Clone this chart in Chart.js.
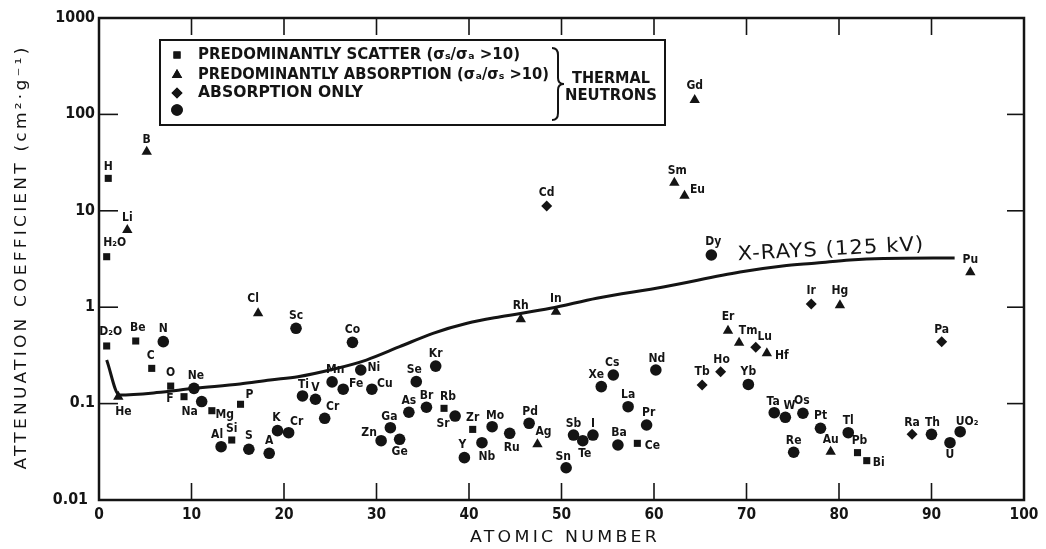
<!DOCTYPE html>
<html><head><meta charset="utf-8">
<script src="https://cdn.jsdelivr.net/npm/chart.js@4.4.1/dist/chart.umd.min.js"></script>
<style>html,body{margin:0;padding:0;background:#fff;}canvas{display:block;}</style>
</head><body>
<canvas id="c" width="1046" height="549"></canvas>
<script>
// ---------- DATA ----------
const xTicks = [0,10,20,30,40,50,60,70,80,90,100];
const xTickLabels = ['0','10','20','30','40','50','60','70','80','90','100'];
const yTicks = [0.01,0.1,1,10,100,1000];
const yTickLabels = ['0.01','0.1','1','10','100','1000'];

// predominantly scatter (squares)
const scatterNames = ['H','H₂O','D₂O','Be','C','O','F','Mg','P','Si','Rb','Zr','Ce','Pb','Bi'];
const scatterZ  = [1.0,0.83,0.83,3.97,5.7,7.75,9.19,12.2,15.3,14.35,37.3,40.4,58.2,82.0,83.0];
const scatterMu = [21.7,3.34,0.396,0.446,0.232,0.152,0.118,0.0844,0.0984,0.0419,0.0893,0.054,0.0387,0.031,0.0256];

// predominantly absorption (triangles)
const absorbNames = ['B','Li','He','Cl','Rh','In','Ag','Sm','Eu','Gd','Er','Tm','Hf','Hg','Au','Pu'];
const absorbZ  = [5.16,3.06,2.09,17.2,45.6,49.4,47.4,62.2,63.3,64.4,68.0,69.2,72.2,80.1,79.1,94.2];
const absorbMu = [41,6.32,0.118,0.865,0.749,0.898,0.0378,19.6,14.3,141,0.57,0.428,0.333,1.05,0.0317,2.3];

// absorption only (diamonds)
const onlyNames = ['Cd','Tb','Ho','Lu','Ir','Pa','Ra'];
const onlyZ  = [48.4,65.2,67.2,71.0,77.0,91.1,87.9];
const onlyMu = [11.2,0.156,0.214,0.384,1.08,0.439,0.048];

// circles
const circleNames = ['N','Ne','Na','Al','S','A','K','Cr','Sc','Ti','V','Cr','Mn','Fe','Co','Ni','Cu','Zn','Ga','Ge','As','Se','Br','Kr','Sr','Y','Nb','Mo','Ru','Pd','Sn','Sb','Te','I','Xe','Cs','Ba','La','Pr','Nd','Dy','Yb','Ta','W','Re','Os','Pt','Tl','Th','U','UO₂'];
const circleZ  = [6.95,10.27,11.1,13.2,16.2,18.4,19.3,20.5,21.3,22.0,23.4,24.4,25.2,26.4,27.4,28.3,29.5,30.5,31.5,32.5,33.5,34.3,35.4,36.4,38.5,39.5,41.4,42.5,44.4,46.5,50.5,51.3,52.3,53.4,54.3,55.6,56.1,57.2,59.2,60.2,66.2,70.2,73.0,74.2,75.1,76.1,78.0,81.0,90.0,92.0,93.1];
const circleMu = [0.439,0.144,0.105,0.0357,0.0336,0.0305,0.0524,0.0499,0.604,0.12,0.111,0.0704,0.168,0.141,0.432,0.223,0.141,0.0412,0.0562,0.0426,0.0813,0.169,0.0916,0.245,0.0743,0.0275,0.0393,0.0576,0.0492,0.0625,0.0216,0.0472,0.0412,0.0472,0.15,0.198,0.0372,0.0929,0.06,0.223,3.48,0.158,0.0805,0.0721,0.0313,0.0794,0.0555,0.0499,0.048,0.0393,0.0511];

// X-rays (125 kV) curve
const xrayZ  = [0.83,2.19,6.24,10.27,15.24,18.5,21.5,25.3,28.9,32.5,36.1,39.8,43.4,48.8,53.8,61.0,69.3,73.9,77.6,81.2,84.8,92.5];
const xrayMu = [0.283,0.123,0.130,0.144,0.160,0.176,0.190,0.227,0.283,0.389,0.536,0.681,0.797,0.974,1.24,1.62,2.32,2.68,2.87,3.09,3.2,3.24];

const legendTexts = ['PREDOMINANTLY SCATTER (σₛ/σₐ >10)','PREDOMINANTLY ABSORPTION (σₐ/σₛ >10)','ABSORPTION ONLY',''];
const bracketTexts = ['THERMAL','NEUTRONS'];
const curveLabel = 'X-RAYS (125 kV)';
const xTitle = 'ATOMIC NUMBER';
const yTitle = 'ATTENUATION COEFFICIENT (cm²·g⁻¹)';

// ---------- LAYOUT (label offsets in px) ----------
const labelOffsets = {
 'H':[0,-11],'H₂O':[8,-14],'D₂O':[4,-14],'Be':[2,-13],'C':[-1,-12],'O':[0,-13],'F':[-14,2],'Mg':[13,4],'P':[9,-9],'Si':[0,-11],'Rb':[4,-11],'Zr':[0,-12],'Ce':[15,3],'Pb':[2,-12],'Bi':[12,2],
 'B':[0,-12],'Li':[0,-12],'He':[5,15],'Cl':[-5,-14],'Rh':[0,-13],'In':[0,-13],'Ag':[6,-12],'Sm':[3,-12],'Eu':[13,-6],'Gd':[0,-14],'Er':[0,-14],'Tm':[9,-12],'Hf':[15,3],'Hg':[0,-14],'Au':[0,-12],'Pu':[0,-12],
 'Cd':[0,-13],'Tb':[0,-13],'Ho':[1,-12],'Lu':[9,-10],'Ir':[0,-13],'Pa':[0,-12],'Ra':[0,-11],
 'N':[0,-13],'Ne':[2,-12],'Na':[-12,10],'Al':[-4,-12],'S':[0,-13],'A':[0,-12],'K':[-1,-13],'Cr':[8,-11],'Sc':[0,-12],'Ti':[1,-11],'V':[0,-11],'Mn':[3,-12],'Fe':[13,-5],'Co':[0,-12],'Ni':[13,-2],'Cu':[13,-5],'Zn':[-12,-8],'Ga':[-1,-11],'Ge':[0,13],'As':[0,-11],'Se':[-2,-12],'Br':[0,-11],'Kr':[0,-12],'Sr':[-12,8],'Y':[-2,-13],'Nb':[5,14],'Mo':[3,-11],'Ru':[2,15],'Pd':[1,-11],'Sn':[-3,-11],'Sb':[0,-11],'Te':[2,13],'I':[0,-11],'Xe':[-5,-12],'Cs':[-1,-12],'Ba':[1,-12],'La':[0,-12],'Pr':[2,-12],'Nd':[1,-11],'Dy':[2,-13],'Yb':[0,-13],'Ta':[-1,-11],'W':[4,-11],'Re':[0,-11],'Os':[-1,-12],'Pt':[0,-12],'Tl':[0,-12],'Th':[1,-11],'U':[0,12],'UO₂':[7,-10]
};
const INK = '#141414';
const FONT = '"DejaVu Sans", "Liberation Sans", sans-serif';

function pts(xs, ys){ return xs.map((x,i)=>({x:x, y:ys[i]})); }

function txt(ctx, text, x, y, font, o){
  o = o || {};
  ctx.save();
  ctx.font = font;
  if (o.spacing) ctx.letterSpacing = o.spacing;
  ctx.textBaseline = 'middle';
  ctx.textAlign = 'left';
  ctx.fillStyle = INK;
  const w = ctx.measureText(text).width;
  const sx = o.width ? o.width / w : (o.sx || 1);
  ctx.translate(x, y);
  if (o.rot) ctx.rotate(o.rot);
  ctx.scale(sx, 1);
  const a = o.align || 'center';
  const ox = a === 'center' ? -w/2 : (a === 'right' ? -w : 0);
  ctx.fillText(text, ox, 0);
  ctx.restore();
}

const overlay = {
  id: 'overlay',
  afterDraw(chart) {
    const ctx = chart.ctx;
    const xs = chart.scales.x, ys = chart.scales.y;
    const L = chart.chartArea.left, R = chart.chartArea.right, T = chart.chartArea.top, B = chart.chartArea.bottom;
    ctx.save();
    ctx.strokeStyle = INK; ctx.fillStyle = INK;
    // frame
    ctx.lineWidth = 2.5;
    ctx.strokeRect(L, T, R - L, B - T);
    // inward ticks
    ctx.lineWidth = 1.6;
    const tl = 17;
    xTicks.forEach((v,i) => {
      const px = xs.getPixelForValue(v);
      if (i > 0 && i < xTicks.length - 1) {
        ctx.beginPath(); ctx.moveTo(px, B); ctx.lineTo(px, B - tl); ctx.stroke();
        ctx.beginPath(); ctx.moveTo(px, T); ctx.lineTo(px, T + tl); ctx.stroke();
      }
      txt(ctx, xTickLabels[i], px, B + 15, 'bold 15px ' + FONT, {sx: 0.92});
    });
    yTicks.forEach((v,i) => {
      const py = ys.getPixelForValue(v);
      if (i > 0 && i < yTicks.length - 1) {
        ctx.beginPath(); ctx.moveTo(L, py); ctx.lineTo(L + 19, py); ctx.stroke();
        ctx.beginPath(); ctx.moveTo(R, py); ctx.lineTo(R - tl, py); ctx.stroke();
      }
      const lx = (i === 0) ? L - 11 : L - 4;
      txt(ctx, yTickLabels[i], lx, py, 'bold 15px ' + FONT, {align: 'right', sx: 0.95});
    });
    // axis titles
    txt(ctx, xTitle, 565, 538, '16px ' + FONT, {width: 190, spacing: '3px'});
    txt(ctx, yTitle, 22, 257, '16px ' + FONT, {width: 425, spacing: '3px', rot: -Math.PI/2});

    // point labels
    const groups = [scatterNames, absorbNames, onlyNames, circleNames];
    groups.forEach((names, di) => {
      const meta = chart.getDatasetMeta(di);
      names.forEach((n, j) => {
        const el = meta.data[j];
        const off = labelOffsets[n] || [0,-12];
        txt(ctx, n, el.x + off[0], el.y + off[1], 'bold 12px ' + FONT, {sx: 0.9});
      });
    });

    // curve label
    txt(ctx, curveLabel, 831, 250, '20px ' + FONT, {width: 187, rot: -0.055, spacing: '1px'});

    // legend box
    ctx.lineWidth = 2;
    ctx.strokeRect(160, 40, 505, 85);
    const styles = [['rect',5],['triangle',6],['rectRot',5.5],['circle',5.8]];
    const rowsY = [55, 75, 93, 110];
    const widths = [322, 351, 165, 0];
    styles.forEach((s, i) => {
      Chart.helpers.drawPoint(ctx, {pointStyle: s[0], radius: s[1], borderWidth: 0}, 177, rowsY[i]);
      ctx.fill();
      if (legendTexts[i]) txt(ctx, legendTexts[i], 198, rowsY[i], 'bold 16px ' + FONT, {align: 'left', width: widths[i]});
    });
    // brace
    ctx.lineWidth = 2;
    ctx.beginPath();
    ctx.moveTo(552, 48);
    ctx.quadraticCurveTo(558, 48, 558, 55);
    ctx.lineTo(558, 78);
    ctx.quadraticCurveTo(558, 84, 564, 84);
    ctx.quadraticCurveTo(558, 84, 558, 90);
    ctx.lineTo(558, 113);
    ctx.quadraticCurveTo(558, 120, 552, 120);
    ctx.stroke();
    txt(ctx, bracketTexts[0], 611, 79, 'bold 15px ' + FONT, {width: 78});
    txt(ctx, bracketTexts[1], 611, 96, 'bold 15px ' + FONT, {width: 92});
    ctx.restore();
  }
};

new Chart(document.getElementById('c').getContext('2d'), {
  type: 'scatter',
  data: { datasets: [
    {label:'scatter', data: pts(scatterZ, scatterMu), pointStyle:'rect', pointRadius:5, backgroundColor:INK, borderColor:INK, borderWidth:0, clip:false},
    {label:'absorption', data: pts(absorbZ, absorbMu), pointStyle:'triangle', pointRadius:6, backgroundColor:INK, borderColor:INK, borderWidth:0, clip:false},
    {label:'absorption only', data: pts(onlyZ, onlyMu), pointStyle:'rectRot', pointRadius:5.5, backgroundColor:INK, borderColor:INK, borderWidth:0, clip:false},
    {label:'other', data: pts(circleZ, circleMu), pointStyle:'circle', pointRadius:5.8, backgroundColor:INK, borderColor:INK, borderWidth:0, clip:false},
    {type:'line', label:'X-rays', data: pts(xrayZ, xrayMu), showLine:true, pointRadius:0, borderColor:INK, borderWidth:3, cubicInterpolationMode:'monotone', fill:false, clip:false}
  ]},
  options: {
    responsive: false, animation: false, devicePixelRatio: 1,
    layout: { padding: { left: 99, right: 22, top: 18, bottom: 49 } },
    plugins: { legend: { display: false }, tooltip: { enabled: false } },
    events: [],
    scales: {
      x: { type: 'linear', min: 0, max: 100, display: false },
      y: { type: 'logarithmic', min: 0.01, max: 1000, display: false }
    }
  },
  plugins: [overlay]
});
</script>
</body></html>
